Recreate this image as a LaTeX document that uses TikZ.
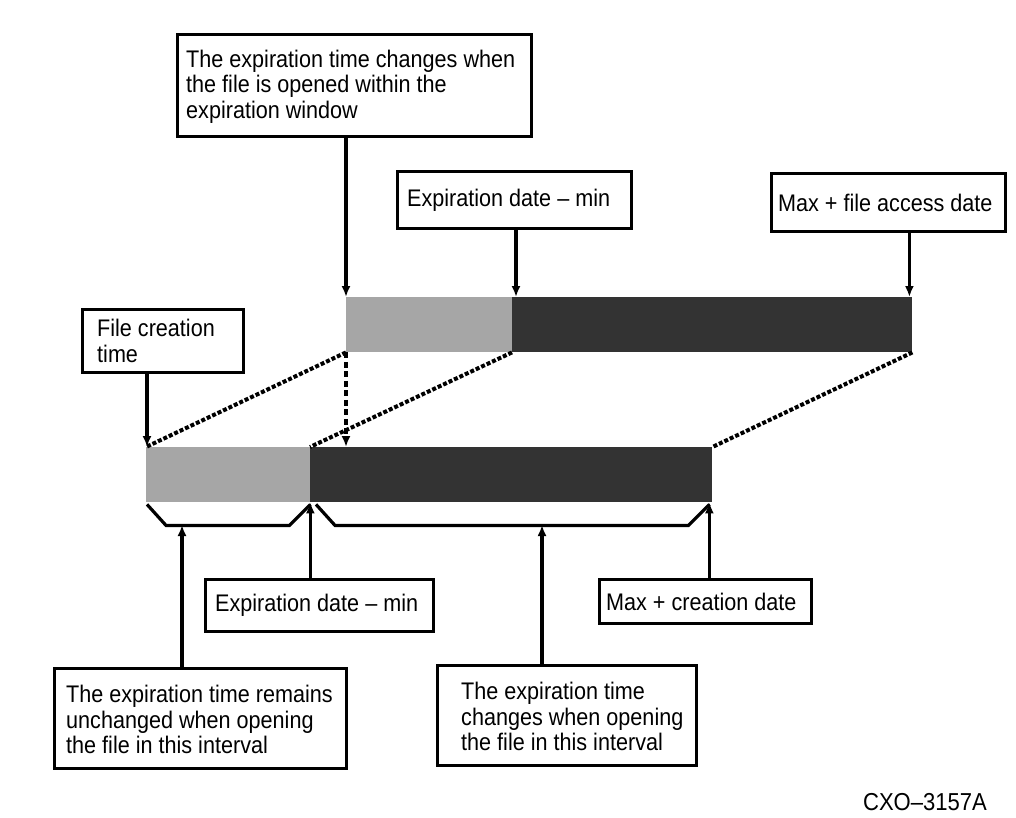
\documentclass[tikz,border=0pt]{standalone}
\usepackage{fontspec}
\setmainfont{Liberation Sans}[FakeStretch=0.9]
\usetikzlibrary{arrows.meta,calc}
\newcommand{\boxfont}{\fontsize{24}{25.5}\selectfont}
\begin{document}
\begin{tikzpicture}[x=1pt,y=-1pt,
  box/.style={draw, line width=3.2pt, inner sep=0pt, anchor=north west},
  txt/.style={align=left, inner sep=0pt, anchor=west, font=\boxfont},
  bar/.style={inner sep=0pt, anchor=north west, minimum height=55pt},
  lightbar/.style={bar, fill=lightgray},
  darkbar/.style={bar, fill=darkgray},
  arr/.style={line width=3.2pt, -{Latex[length=11pt,width=9pt]}},
  dsh/.style={line width=4pt, dash pattern=on 4pt off 2pt},
  brc/.style={line width=3.2pt, line join=miter}]
\definecolor{lightgray}{HTML}{A6A6A6}
\definecolor{darkgray}{HTML}{333333}
\useasboundingbox (0,0) rectangle (1016,817);

% bars
\node[lightbar, minimum width=166pt] (tg) at (346,297) {};
\node[darkbar, minimum width=400pt] (td) at (512,297) {};
\node[lightbar, minimum width=164pt] (bg) at (146,447) {};
\node[darkbar, minimum width=402pt] (bd) at (310,447) {};

% top boxes
\node[box, minimum width=354pt, minimum height=102pt] (tb) at (176,33) {};
\node[txt] (tbt) at ($(tb.west)+(10,1)$)
  {The expiration time changes when\\the file is opened within the\\expiration window};
\node[box, minimum width=234pt, minimum height=57pt] (em1) at (396,170) {};
\node[txt] (em1t) at ($(em1.west)+(11,0)$) {Expiration date -- min};
\node[box, minimum width=234pt, minimum height=58pt] (ma) at (770,172) {};
\node[txt] (mat) at ($(ma.west)+(8,0)$) {Max + file access date};
\node[box, minimum width=161pt, minimum height=63pt] (fc) at (81,308) {};
\node[txt] (fct) at ($(fc.west)+(16,0)$) {File creation\\time};

% bottom boxes
\node[box, minimum width=228pt, minimum height=52pt] (em2) at (204,578) {};
\node[txt] (em2t) at ($(em2.west)+(11,0)$) {Expiration date -- min};
\node[box, minimum width=212pt, minimum height=44pt] (mc) at (598,578) {};
\node[txt] (mct) at ($(mc.west)+(8,0)$) {Max + creation date};
\node[box, minimum width=292pt, minimum height=100pt] (rem) at (53,667) {};
\node[txt] (remt) at ($(rem.west)+(13,1)$)
  {The expiration time remains\\unchanged when opening\\the file in this interval};
\node[box, minimum width=259pt, minimum height=100pt] (chg) at (436,664) {};
\node[txt] (chgt) at ($(chg.west)+(25,1)$)
  {The expiration time\\changes when opening\\the file in this interval};

\node[font=\fontsize{24.5}{25}\selectfont, inner sep=0pt] (id) at (925,802) {CXO--3157A};

% arrows from top boxes
\draw[arr] (tg.north west |- tb.south) -- (tg.north west);
\draw[arr] ($(td.north west |- em1.south)+(4,0)$) -- ($(td.north west)+(4,0)$);
\draw[arr] ($(td.north east |- ma.south)+(-3,0)$) -- ($(td.north east)+(-3,0)$);
\draw[arr] ($(bg.north west |- fc.south)+(1,0)$) -- ($(bg.north west)+(1,0)$);

% dashed projections
\draw[dsh] (tg.south west) -- (bg.north west);
\draw[dsh] (td.south west) -- (bd.north west);
\draw[dsh] (td.south east) -- (bd.north east);
\draw[dsh, line width=3.2pt, dash pattern=on 6pt off 3.5pt, -{Latex[length=11pt,width=9pt]}] (tg.south west) -- (tg.south west |- bg.north);

% braces
\coordinate (lb) at (182,525);
\coordinate (rb) at (542,525);
\draw[brc] ($(bg.south west)+(1,2)$) -- ++(19,21) -- ($(bg.south east)+(-21,23)$) -- ($(bg.south east)+(0,2)$);
\draw[brc] ($(bd.south west)+(6,2)$) -- ++(19,21) -- ($(bd.south east)+(-24,23)$) -- ($(bd.south east)+(-3,2)$);

% arrows from bottom boxes
\draw[arr] (rem.north -| lb) -- (lb);
\draw[arr] (bg.south east |- em2.north) -- (bg.south east);
\draw[arr] (chg.north -| rb) -- (rb);
\draw[arr] ($(bd.south east |- mc.north)+(-3,0)$) -- ($(bd.south east)+(-3,0)$);
\end{tikzpicture}
\end{document}
